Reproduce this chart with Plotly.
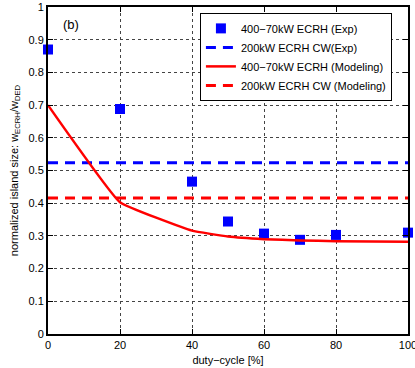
import plotly.graph_objects as go

duty_exp = [0, 20, 40, 50, 60, 70, 80, 100]
island_exp = [0.87, 0.688, 0.466, 0.344, 0.307, 0.288, 0.303, 0.31]

duty_model = [0, 20, 40, 50, 60, 70, 80, 100]
island_model = [0.70, 0.403, 0.316, 0.298, 0.290, 0.286, 0.284, 0.282]

cw_exp = 0.524
cw_model = 0.416
x_range = [0, 100]

x_ticks = [0, 20, 40, 60, 80, 100]
y_ticks = [0, 0.1, 0.2, 0.3, 0.4, 0.5, 0.6, 0.7, 0.8, 0.9, 1]

FONT = "Liberation Sans, Arial, sans-serif"

fig = go.Figure()
fig.add_trace(go.Scatter(x=duty_exp, y=island_exp, mode="markers",
                         marker=dict(symbol="square", size=10, color="#0000ff"),
                         name="400\u221270kW ECRH (Exp)", cliponaxis=False))
fig.add_trace(go.Scatter(x=x_range, y=[cw_exp, cw_exp], mode="lines",
                         line=dict(color="#0000ff", width=3, dash="10px,7px"),
                         name="200kW ECRH CW(Exp)"))
fig.add_trace(go.Scatter(x=duty_model, y=island_model, mode="lines",
                         line=dict(color="#ff0000", width=2.5, shape="spline", smoothing=0.3),
                         name="400\u221270kW ECRH (Modeling)"))
fig.add_trace(go.Scatter(x=x_range, y=[cw_model, cw_model], mode="lines",
                         line=dict(color="#ff0000", width=3, dash="10px,7px"),
                         name="200kW ECRH CW (Modeling)"))

axis_common = dict(showline=True, linecolor="black", linewidth=2, mirror="allticks",
                   ticks="inside", ticklen=5, tickcolor="black",
                   showgrid=True, gridcolor="#444444", gridwidth=1, griddash="dot",
                   zeroline=False, automargin=False, ticklabeloverflow="allow",
                   tickfont=dict(family=FONT, size=11, color="black"))

fig.update_xaxes(range=x_range, tickvals=x_ticks, ticktext=[str(v) for v in x_ticks],
                 title=dict(text="duty\u2212cycle [%]", font=dict(family=FONT, size=11, color="black"), standoff=6),
                 **axis_common)
fig.update_yaxes(range=[0, 1], tickvals=y_ticks, ticktext=[("%g" % v) for v in y_ticks],
                 title=dict(text="normalized island size: w<sub>ECRH</sub>/w<sub>DED</sub>",
                            font=dict(family=FONT, size=11, color="black"), standoff=8),
                 **axis_common)

fig.add_annotation(x=0.035, y=0.975, xref="paper", yref="paper", text="(b)",
                   showarrow=False, xanchor="left", yanchor="top",
                   font=dict(family=FONT, size=13, color="black"))

fig.update_layout(
    width=415, height=368,
    margin=dict(l=48, r=7, t=7, b=34, autoexpand=False),
    plot_bgcolor="white", paper_bgcolor="white",
    font=dict(family=FONT, size=11, color="black"),
    legend=dict(x=0.422, y=0.982, xanchor="left", yanchor="top",
                bgcolor="white", bordercolor="black", borderwidth=1,
                font=dict(family=FONT, size=11, color="black"),
                tracegroupgap=0, itemwidth=30),
    showlegend=True,
)

fig.write_html("out.html")
